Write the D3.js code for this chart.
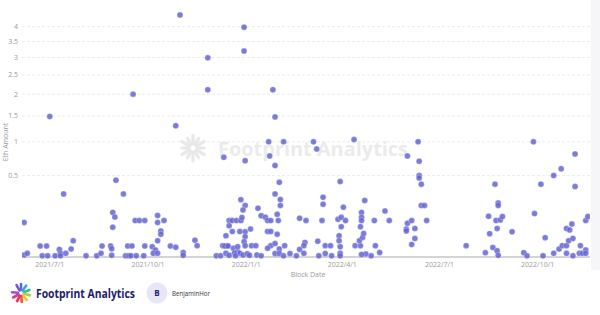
<!DOCTYPE html>
<meta charset="utf-8">
<style>
  body { margin: 0; background: #fff; }
  svg text { font-family: "Open Sans", Roboto, sans-serif; }
</style>
<script src="https://d3js.org/d3.v7.min.js"></script>
<div id="chart"></div>
<script>

// block dates and eth amounts
var blockDates = [
  "2021-06-07","2021-06-07","2021-06-10","2021-06-22","2021-06-28","2021-06-24","2021-06-29","2021-07-06",
  "2021-07-10","2021-07-11","2021-07-11","2021-07-16","2021-07-21","2021-07-23","2021-07-14","2021-07-01",
  "2021-08-04","2021-08-14","2021-08-18","2021-08-19","2021-08-27","2021-08-28","2021-08-28","2021-08-29",
  "2021-08-31","2021-08-29","2021-09-01","2021-09-08","2021-09-10","2021-09-13","2021-09-12","2021-09-16",
  "2021-09-15","2021-09-17","2021-09-19","2021-09-23","2021-09-28","2021-09-20","2021-09-27","2021-09-28",
  "2021-10-05","2021-10-08","2021-10-06","2021-10-10","2021-10-10","2021-10-10","2021-10-16","2021-10-13",
  "2021-10-13","2021-10-10","2021-10-22","2021-10-27","2021-11-03","2021-11-03","2021-10-27","2021-10-31",
  "2021-11-14","2021-11-16","2021-11-26","2021-11-26","2021-12-04","2021-12-08","2021-12-10","2021-12-14",
  "2021-12-13","2021-12-11","2021-12-16","2021-12-19","2021-12-23","2021-12-27","2021-12-16","2021-12-19",
  "2021-12-26","2021-12-13","2021-12-12","2021-12-15","2021-12-20","2021-12-24","2021-12-26","2021-12-29",
  "2021-12-27","2021-12-31","2021-12-29","2021-12-28","2021-12-31","2021-12-30","2021-12-30","2021-12-31",
  "2021-12-31","2021-12-30","2021-12-31","2021-12-24","2021-12-16","2021-12-21","2021-12-22","2022-01-02",
  "2022-01-04","2022-01-05","2022-01-06","2022-01-10","2022-01-12","2022-01-15","2022-01-19","2022-01-21",
  "2022-01-24","2022-01-31","2022-01-21","2022-01-24","2022-01-30","2022-01-30","2022-01-24","2022-01-28",
  "2022-02-01","2022-02-06","2022-01-21","2022-01-22","2022-02-05","2022-01-23","2022-01-28","2022-02-01",
  "2022-01-28","2022-02-02","2022-02-02","2022-01-26","2022-01-28","2022-01-11","2022-01-15","2022-01-28",
  "2022-02-01","2022-02-05","2022-02-11","2022-02-17","2022-02-20","2022-02-20","2022-02-26","2022-02-25",
  "2022-02-24","2022-02-24","2022-03-05","2022-03-08","2022-03-09","2022-03-14","2022-03-14","2022-03-13",
  "2022-03-16","2022-03-21","2022-03-10","2022-03-16","2022-03-22","2022-03-30","2022-04-02","2022-03-28",
  "2022-03-31","2022-04-04","2022-03-31","2022-03-29","2022-03-29","2022-03-30","2022-03-30","2022-03-30",
  "2022-04-12","2022-04-13","2022-04-18","2022-04-17","2022-04-20","2022-04-21","2022-04-19","2022-04-19",
  "2022-04-18","2022-04-22","2022-04-19","2022-04-23","2022-04-28","2022-04-19","2022-05-01","2022-05-02",
  "2022-05-06","2022-05-11","2022-05-15","2022-05-31","2022-05-31","2022-06-01","2022-06-01","2022-06-05",
  "2022-06-08","2022-06-08","2022-06-05","2022-06-11","2022-06-12","2022-06-12","2022-06-12","2022-06-14",
  "2022-06-14","2022-06-17","2022-06-19","2022-07-26","2022-08-13","2022-08-16","2022-08-17","2022-08-20",
  "2022-08-22","2022-08-23","2022-08-24","2022-08-24","2022-08-25","2022-08-25","2022-08-25","2022-08-27",
  "2022-08-29","2022-09-07","2022-09-18","2022-09-21","2022-09-27","2022-09-28","2022-10-04","2022-10-06",
  "2022-10-08","2022-10-16","2022-10-16","2022-10-21","2022-10-23","2022-10-24","2022-10-28","2022-10-28",
  "2022-10-28","2022-10-30","2022-10-31","2022-11-02","2022-11-03","2022-11-03","2022-11-05","2022-11-05",
  "2022-11-09","2022-11-10","2022-11-12","2022-11-15","2022-11-15","2022-11-15","2022-11-17"
];
var ethAmounts = [
  0.09,0.0003,0.001,0.009,0.009,0.0001,0.0001,0.0001,
  0.0043,0.001,0.0001,0.001,0.0048,0.02,0.3,1.49,
  0.0001,0.0001,0.001,0.009,0.009,0.005,0.0002,0.15,
  0.12,0.067,0.445,0.3,0.0001,0.0001,0.009,0.009,
  0.0001,2.0,0.1,0.1,0.1,0.0001,0.0001,0.009,
  0.008,0.0037,0.001,0.001,0.13,0.09,0.1,0.051,
  0.039,0.02,0.009,0.0073,0.0015,0.0002,1.3,4.42,
  0.021,0.0097,2.99,2.11,0.0001,0.0001,0.0097,0.0097,
  0.001,0.75,0.1,0.1,0.1,0.1,0.074,0.049,
  0.049,0.034,0.009,0.009,0.0057,0.002,0.001,0.0003,
  0.248,0.2,0.167,0.118,0.7,3.98,3.2,0.048,
  0.031,0.0177,0.0097,0.008,0.0002,0.0012,0.0001,0.0008,
  0.0002,0.059,0.0097,0.0097,0.179,0.129,0.119,0.1,
  0.1,0.1,0.049,0.049,0.039,0.137,0.0097,0.0138,
  0.0048,0.0097,0.0057,1.0,1.0,0.77,0.63,0.42,
  0.3,0.25,0.2,2.11,1.48,0.0003,0.0001,0.0009,
  0.0009,0.0001,0.0009,0.0001,0.0043,0.113,0.1,0.016,
  0.0097,0.001,1.0,0.88,0.019,0.27,0.21,0.1,
  0.0097,0.0097,0.0001,0.0009,0.0001,0.43,0.187,0.107,
  0.119,0.1,0.069,0.034,0.02,0.008,0.001,0.0001,
  1.04,0.0097,0.0097,0.02,0.029,0.042,0.15,0.119,
  0.069,0.24,0.1,0.0007,0.0001,0.0005,0.1,0.0097,
  0.0015,0.16,0.1,0.059,0.051,0.086,0.77,0.1,
  0.061,0.026,0.0118,1.0,0.69,0.5,0.47,0.4,
  0.2,0.2,0.1,0.0097,0.0014,0.125,0.041,0.0068,
  0.4,0.1,0.061,0.003,0.0002,0.22,0.2,0.1035,
  0.123,0.048,0.0014,0.0001,1.0,0.142,0.4,0.0001,
  0.028,0.5,0.001,0.0048,0.586,0.0097,0.0097,0.001,
  0.061,0.02,0.055,0.082,0.026,0.0001,0.8,0.374,
  0.001,0.0097,0.001,0.0037,0.001,0.1,0.123
];
var yTicks = [0.5, 1, 1.5, 2, 2.5, 3, 3.5, 4];
var xTicks = ["2021-07-01","2021-10-01","2022-01-01","2022-04-01","2022-07-01","2022-10-01"];

var width = 600, height = 315;
var plotLeft = 22, plotRight = 590, plotTop = 10, plotBottom = 257;
var parse = d3.timeParse("%Y-%m-%d");

var points = blockDates.map(function(d, i) { return { date: parse(d), value: ethAmounts[i] }; });

var svg = d3.select("#chart").append("svg")
  .attr("width", width)
  .attr("height", height);

var x = d3.scaleTime()
  .domain([parse("2021-06-05"), parse("2022-11-19")])
  .range([plotLeft, plotRight]);
var y = d3.scaleSqrt()
  .domain([0, 4.6])
  .range([plotBottom, plotTop]);

// right side light band
svg.append("rect").attr("x", 591).attr("y", 0).attr("width", 9).attr("height", 270).attr("fill", "#f6f6f9");

// grid lines
svg.append("g").selectAll("line").data(yTicks).enter().append("line")
  .attr("x1", plotLeft).attr("x2", plotRight)
  .attr("y1", function(d) { return y(d); })
  .attr("y2", function(d) { return y(d); })
  .attr("stroke", "#ebebeb")
  .attr("stroke-width", 1)
  .attr("stroke-dasharray", "3,2");

// y labels
svg.append("g").selectAll("text").data(yTicks).enter().append("text")
  .attr("x", 18)
  .attr("y", function(d) { return y(d) + 2.5; })
  .attr("text-anchor", "end")
  .attr("font-size", 7)
  .attr("fill", "#999")
  .text(function(d) { return d; });

// watermark
var wm = svg.append("g");
var rays = [[-90,9],[-60,7],[-30,9],[0,7],[30,9],[60,7],[90,9],[120,7],[150,9],[180,7],[210,9],[240,7]];
wm.selectAll("line").data(rays).enter().append("line")
  .attr("x1", function(d) { return 193 + 4 * Math.cos(d[0] * Math.PI / 180); })
  .attr("y1", function(d) { return 148 + 4 * Math.sin(d[0] * Math.PI / 180); })
  .attr("x2", function(d) { return 193 + (4 + d[1]) * Math.cos(d[0] * Math.PI / 180); })
  .attr("y2", function(d) { return 148 + (4 + d[1]) * Math.sin(d[0] * Math.PI / 180); })
  .attr("stroke", "#e8e8e8")
  .attr("stroke-width", 3.2)
  .attr("stroke-linecap", "round");
wm.append("text")
  .attr("x", 218).attr("y", 156)
  .attr("font-family", "Inter, sans-serif")
  .attr("font-weight", 700)
  .attr("font-size", 19)
  .attr("textLength", 190)
  .attr("lengthAdjust", "spacingAndGlyphs")
  .attr("fill", "#ebebeb")
  .text("Footprint Analytics");

// baseline
svg.append("line")
  .attr("x1", plotLeft).attr("x2", plotRight)
  .attr("y1", plotBottom).attr("y2", plotBottom)
  .attr("stroke", "#a8a8a8").attr("stroke-width", 1);

// x labels
var fmt = d3.timeFormat("%Y/%-m/%-d");
svg.append("g").selectAll("text").data(xTicks).enter().append("text")
  .attr("x", function(d) { return x(parse(d)); })
  .attr("y", 267)
  .attr("text-anchor", "middle")
  .attr("font-size", 7)
  .attr("fill", "#999")
  .text(function(d) { return fmt(parse(d)); });

// axis titles
svg.append("text")
  .attr("x", 308).attr("y", 277)
  .attr("text-anchor", "middle")
  .attr("font-size", 7)
  .attr("fill", "#999")
  .text("Block Date");
svg.append("text")
  .attr("transform", "translate(8,142) rotate(-90)")
  .attr("text-anchor", "middle")
  .attr("font-size", 7)
  .attr("fill", "#999")
  .text("Eth Amount");

// dots
svg.append("clipPath").attr("id", "plotclip")
  .append("rect").attr("x", plotLeft).attr("y", 0).attr("width", plotRight - plotLeft).attr("height", plotBottom + 4);

svg.append("g").attr("clip-path", "url(#plotclip)")
  .selectAll("circle").data(points).enter().append("circle")
  .attr("cx", function(d) { return x(d.date); })
  .attr("cy", function(d) { return y(d.value); })
  .attr("r", 3)
  .attr("fill", "#6464d2")
  .attr("fill-opacity", 0.85)
  .attr("stroke", "#ffffff")
  .attr("stroke-opacity", 0.6)
  .attr("stroke-width", 0.5);

// footer logo
var logoRays = [[-120,"#7b4fd6"],[-90,"#4b6fe0"],[-55,"#3aa0e8"],[-20,"#36c08a"],[15,"#9bd34a"],[50,"#f2c230"],
                [85,"#f0552f"],[115,"#e8325a"],[150,"#d63b9a"],[185,"#a04bd8"]];
svg.append("g").selectAll("line").data(logoRays).enter().append("line")
  .attr("x1", function(d) { return 21 + 3 * Math.cos(d[0] * Math.PI / 180); })
  .attr("y1", function(d) { return 293 + 3 * Math.sin(d[0] * Math.PI / 180); })
  .attr("x2", function(d) { return 21 + 9 * Math.cos(d[0] * Math.PI / 180); })
  .attr("y2", function(d) { return 293 + 9 * Math.sin(d[0] * Math.PI / 180); })
  .attr("stroke", function(d) { return d[1]; })
  .attr("stroke-width", 2.6)
  .attr("stroke-linecap", "round");

svg.append("text")
  .attr("x", 36).attr("y", 298)
  .attr("font-family", "Inter, sans-serif")
  .attr("font-weight", 700)
  .attr("font-size", 12)
  .attr("textLength", 99)
  .attr("lengthAdjust", "spacingAndGlyphs")
  .attr("fill", "#221c6b")
  .text("Footprint Analytics");

svg.append("circle").attr("cx", 157).attr("cy", 293).attr("r", 10.5).attr("fill", "#e7e5f8");
svg.append("text")
  .attr("x", 157).attr("y", 296)
  .attr("text-anchor", "middle")
  .attr("font-family", "Inter, sans-serif")
  .attr("font-weight", 700)
  .attr("font-size", 8)
  .attr("fill", "#221c6b")
  .text("B");
svg.append("text")
  .attr("x", 172).attr("y", 296)
  .attr("font-family", "Inter, sans-serif")
  .attr("font-size", 7.5)
  .attr("textLength", 38)
  .attr("lengthAdjust", "spacingAndGlyphs")
  .attr("fill", "#333")
  .text("BenjaminHor");

</script>
